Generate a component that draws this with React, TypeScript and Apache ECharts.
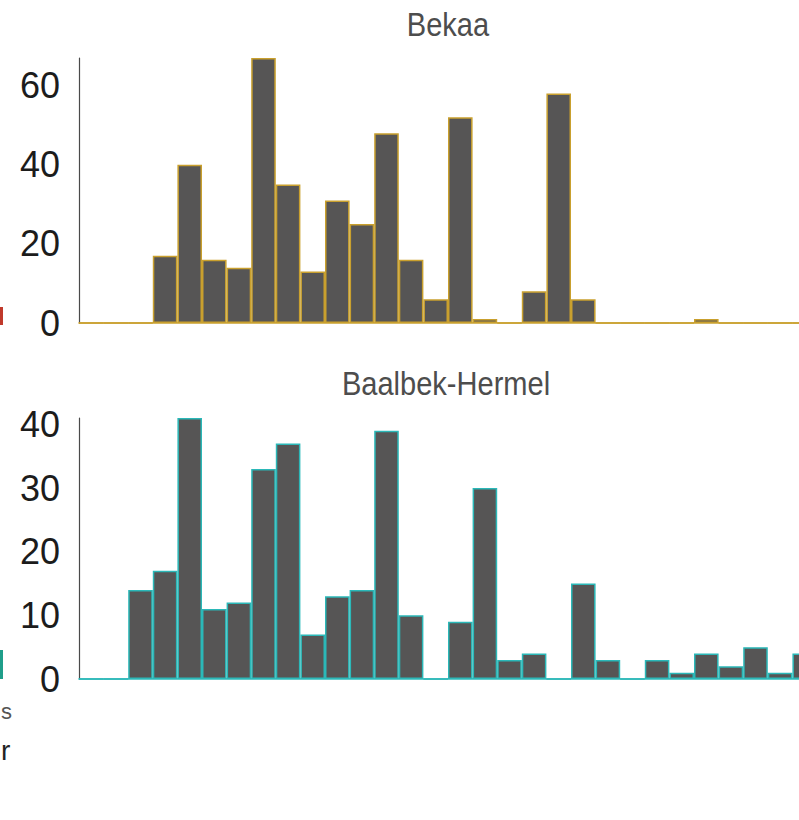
import React, { useEffect, useRef } from "react";
import * as echarts from "echarts";

// Histogram bins (no visible labels in the reference)
const bins = [
  "1", "2", "3", "4", "5", "6", "7", "8", "9", "10",
  "11", "12", "13", "14", "15", "16", "17", "18", "19", "20",
  "21", "22", "23", "24", "25", "26", "27", "28", "29", "30",
];

const bekaaValues = [0, 0, 0, 17, 40, 16, 14, 67, 35, 13, 31, 25, 48, 16, 6, 52, 1, 0, 8, 58, 6, 0, 0, 0, 0, 1, 0, 0, 0, 0];
const baalbekValues = [0, 0, 14, 17, 41, 11, 12, 33, 37, 7, 13, 14, 39, 10, 0, 9, 30, 3, 4, 0, 15, 3, 0, 3, 1, 4, 2, 5, 1, 4];

const bekaaTicks = [0, 20, 40, 60];
const baalbekTicks = [0, 10, 20, 30, 40];

const panelTitles = ["Bekaa", "Baalbek-Hermel"];

const GOLD = "#C9A02E";
const TEAL = "#2BB8B8";
const FILL = "#565555";
const FONT = '"Liberation Sans", Arial, Helvetica, sans-serif';

export default function App() {
  const ref = useRef<HTMLDivElement>(null);

  useEffect(() => {
    if (!ref.current) return;
    const chart = echarts.init(ref.current, null, { renderer: "svg" });

    const yAxisBase = (gridIndex: number, max: number, ticks: number[]) => ({
      type: "value",
      gridIndex,
      min: 0,
      max,
      interval: ticks[1] - ticks[0],
      axisLine: { show: true, lineStyle: { color: "#4a4a4a", width: 1.2 } },
      axisTick: { show: false },
      splitLine: { show: false },
      axisLabel: {
        fontSize: 36,
        fontFamily: FONT,
        color: "#1c1c1c",
        margin: 19,
        padding: [6, 0, 0, 0],
        formatter: (v: number) => (ticks.indexOf(v) >= 0 ? String(v) : ""),
      },
    });

    const xAxisBase = (gridIndex: number, color: string) => ({
      type: "category",
      gridIndex,
      data: bins,
      boundaryGap: true,
      axisLine: { show: true, lineStyle: { color, width: 1.6 } },
      axisTick: { show: false },
      axisLabel: { show: false },
      splitLine: { show: false },
    });

    chart.setOption({
      animation: false,
      backgroundColor: "#ffffff",
      grid: [
        { left: 79, top: 58, width: 738, height: 265 },
        { left: 79, top: 418, width: 738, height: 261 },
      ],
      xAxis: [xAxisBase(0, GOLD), xAxisBase(1, TEAL)],
      yAxis: [
        yAxisBase(0, Math.max(...bekaaValues), bekaaTicks),
        yAxisBase(1, Math.max(...baalbekValues), baalbekTicks),
      ],
      series: [
        {
          type: "bar",
          xAxisIndex: 0,
          yAxisIndex: 0,
          data: bekaaValues,
          barCategoryGap: "0%",
          itemStyle: { color: FILL, borderColor: GOLD, borderWidth: 1.5 },
          silent: true,
        },
        {
          type: "bar",
          xAxisIndex: 1,
          yAxisIndex: 1,
          data: baalbekValues,
          barCategoryGap: "0%",
          itemStyle: { color: FILL, borderColor: TEAL, borderWidth: 1.5 },
          silent: true,
        },
      ],
      graphic: [
        {
          type: "text",
          x: 448,
          y: 25,
          scaleX: 0.88,
          style: {
            text: panelTitles[0],
            fontSize: 33,
            fontFamily: FONT,
            fill: "#4d4d4d",
            textAlign: "center",
            textVerticalAlign: "middle",
          },
        },
        {
          type: "text",
          x: 446,
          y: 384,
          scaleX: 0.88,
          style: {
            text: panelTitles[1],
            fontSize: 33,
            fontFamily: FONT,
            fill: "#4d4d4d",
            textAlign: "center",
            textVerticalAlign: "middle",
          },
        },
        // fragments of a cut-off legend on the left edge
        { type: "rect", shape: { x: 0, y: 307, width: 3, height: 18 }, style: { fill: "#c0392b" } },
        { type: "rect", shape: { x: 0, y: 650, width: 3, height: 29 }, style: { fill: "#1f9e8a" } },
        {
          type: "text",
          x: 1,
          y: 711,
          style: { text: "s", fontSize: 22, fontFamily: FONT, fill: "#555", textAlign: "left", textVerticalAlign: "middle" },
        },
        {
          type: "text",
          x: 1,
          y: 750,
          style: { text: "r", fontSize: 28, fontFamily: FONT, fill: "#222", textAlign: "left", textVerticalAlign: "middle" },
        },
      ],
    });

    return () => chart.dispose();
  }, []);

  return (
    <div
      style={{
        position: "fixed",
        left: 0,
        top: 0,
        width: 799,
        height: 820,
        overflow: "hidden",
        background: "#fff",
      }}
    >
      <div ref={ref} style={{ width: 830, height: 820 }} />
    </div>
  );
}
